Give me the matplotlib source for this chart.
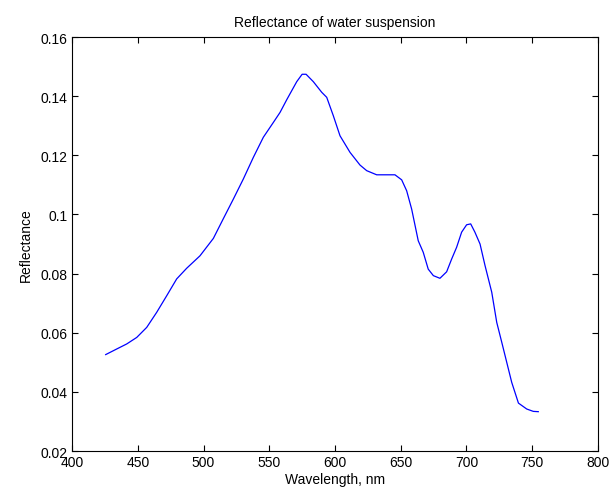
"""Reflectance of water suspension"""
import matplotlib
matplotlib.use('Agg')
import matplotlib.pyplot as plt
from matplotlib.ticker import FormatStrFormatter

plt.rcParams['font.family'] = ['Liberation Sans', 'DejaVu Sans']

# wavelength (nm) and reflectance
wavelength = [425.6, 434, 441.6, 449.2, 456.8, 464.4, 472, 479.6, 487.2, 497.3,
              507.5, 515, 522.7, 530.3, 537.9, 545.5, 553.1, 558.2, 563.3, 570.9,
              575, 578, 583.5, 589.9, 593.7, 598.7, 603.8, 611.4, 619, 624.1,
              631.7, 645.6, 650.7, 654.5, 658.3, 663.3, 667.1, 670.9, 674.8, 679.8,
              684.9, 688.7, 692.5, 696.3, 700.1, 703.2, 706.4, 710.3, 714.1, 719.2,
              723, 726.8, 730.6, 734.4, 739.5, 745.8, 750.8, 754.6]
reflectance = [0.0526, 0.0545, 0.0562, 0.0584, 0.0618, 0.0669, 0.0725, 0.0782, 0.0818, 0.0860,
               0.0919, 0.0985, 0.1052, 0.1120, 0.1193, 0.1261, 0.1311, 0.1345, 0.1388, 0.1449,
               0.1474, 0.1474, 0.1449, 0.1413, 0.1396, 0.1334, 0.1266, 0.1210, 0.1167, 0.1148,
               0.1134, 0.1134, 0.1117, 0.1080, 0.1018, 0.0911, 0.0872, 0.0815, 0.0793, 0.0784,
               0.0806, 0.0849, 0.0889, 0.0940, 0.0965, 0.0968, 0.0940, 0.0900, 0.0827, 0.0737,
               0.0635, 0.0568, 0.0500, 0.0432, 0.0362, 0.0342, 0.0334, 0.0333]

x_ticks = [400, 450, 500, 550, 600, 650, 700, 750, 800]
y_ticks = [0.02, 0.04, 0.06, 0.08, 0.1, 0.12, 0.14, 0.16]

fig = plt.figure(figsize=(6.13, 5.02), dpi=100)
ax = fig.add_axes([0.1175, 0.0996, 0.858, 0.8247])

ax.plot(wavelength, reflectance, color='#0000ff', linewidth=0.9)

ax.set_xlim(400, 800)
ax.set_ylim(0.02, 0.16)
ax.set_xticks(x_ticks)
ax.set_yticks(y_ticks)
ax.yaxis.set_major_formatter(FormatStrFormatter('%g'))
ax.tick_params(direction='in', length=4, width=0.8, top=True, right=True,
               labelsize=10, colors='#000000', pad=3)
for sp in ax.spines.values():
    sp.set_linewidth(0.8)

ax.set_title('Reflectance of water suspension', fontsize=10, pad=8)
ax.set_xlabel('Wavelength, nm', fontsize=10, labelpad=2)
ax.set_ylabel('Reflectance', fontsize=10, labelpad=6)

plt.savefig('out.png', dpi=100)
